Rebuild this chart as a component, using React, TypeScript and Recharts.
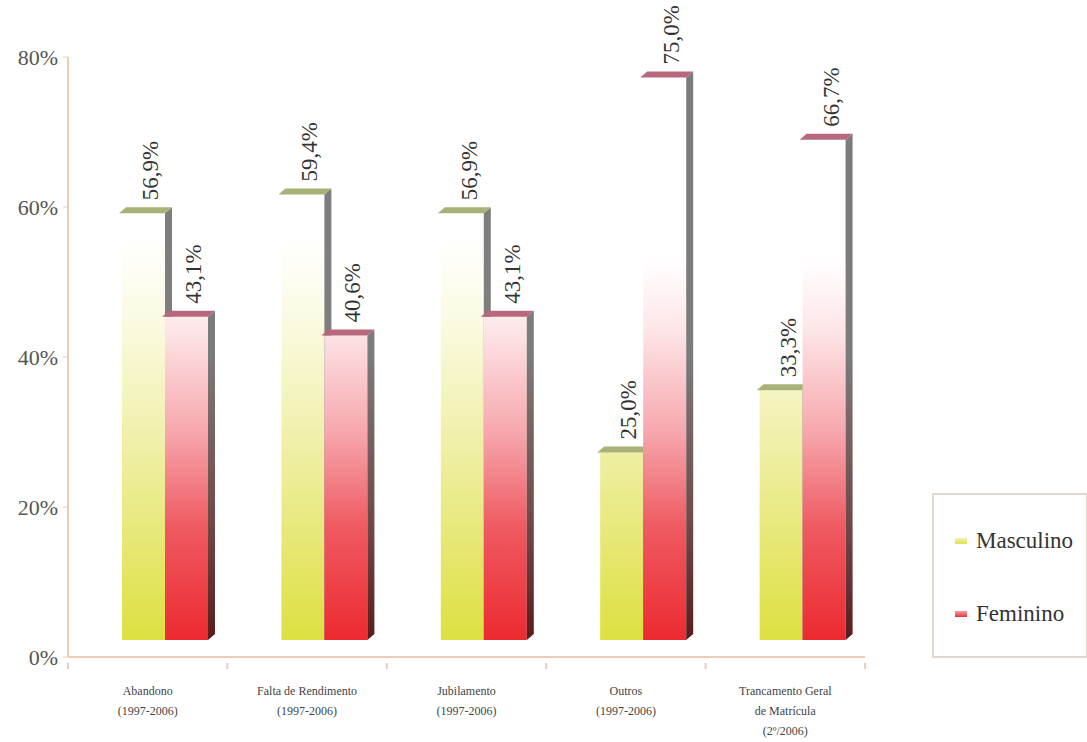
import React from 'react';
import { BarChart, Bar, XAxis, YAxis, Legend, LabelList } from 'recharts';

const categories = [
    'Abandono\n(1997-2006)',
    'Falta de Rendimento\n(1997-2006)',
    'Jubilamento\n(1997-2006)',
    'Outros\n(1997-2006)',
    'Trancamento Geral\nde Matrícula\n(2º/2006)',
];
const masculino = [56.9, 59.4, 56.9, 25.0, 33.3];
const feminino = [43.1, 40.6, 43.1, 75.0, 66.7];
const yTicks = [0, 20, 40, 60, 80];

const data = categories.map((name, i) => ({ name, Masculino: masculino[i], Feminino: feminino[i] }));

const FONT = 'Liberation Serif, DejaVu Serif, serif';
const AXIS = '#e8cdb9';
// 3D look: bars sit on a floor pushed back and up from the axis
const SHIFT = 17;
const DX = 7;
const DY = 6;

const fmt = (v: number) => v.toFixed(1).replace('.', ',') + '%';

const makeShape = (front: string, top: string, side: string) => (props: any) => {
    const { x, y, width, height } = props;
    const fx = x + SHIFT;
    const fy = y - SHIFT;
    const base = fy + height;
    const r = fx + width;
    return (
        <g>
            <rect x={fx} y={fy} width={width} height={height} fill={front} />
            <polygon points={`${r},${fy} ${r + DX},${fy - DY} ${r + DX},${base - DY} ${r},${base}`} fill={side} />
            <polygon points={`${fx - 3},${fy} ${fx + DX - 3},${fy - DY} ${r + DX},${fy - DY} ${r},${fy}`} fill={top} />
        </g>
    );
};

const ValueLabel = (props: any) => {
    const { x, y, width, value } = props;
    const cx = x + width / 2 + SHIFT + 7;
    const cy = y - SHIFT - 13;
    return (
        <text x={cx} y={cy} transform={`rotate(-90 ${cx} ${cy})`} textAnchor="start" dominantBaseline="central"
            style={{ fontFamily: FONT }} fontSize={23} fill="#333">
            {fmt(value)}
        </text>
    );
};

const CategoryTick = (props: any) => {
    const { x, y, payload, index, visibleTicksCount } = props;
    const half = payload.offset || 79.7;
    const lines = String(payload.value).split('\n');
    const axisY = y - 2;
    return (
        <g>
            <line x1={x - half} x2={x - half} y1={axisY} y2={axisY + 6} stroke={AXIS} strokeWidth={2} />
            {index === visibleTicksCount - 1 && (
                <line x1={x + half} x2={x + half} y1={axisY} y2={axisY + 6} stroke={AXIS} strokeWidth={2} />
            )}
            <text x={x} y={axisY + 32} textAnchor="middle" style={{ fontFamily: FONT }} fontSize={12} fill="#444">
                {lines.map((l, i) => (
                    <tspan key={i} x={x} dy={i === 0 ? 0 : 20}>{l}</tspan>
                ))}
            </text>
        </g>
    );
};

const LegendBox = () => (
    <div style={{ width: 156, height: 165, border: '2px solid #e2d8ce', boxSizing: 'border-box', fontFamily: FONT, fontSize: 23, color: '#333' }}>
        <div style={{ display: 'flex', alignItems: 'center', marginTop: 33, marginLeft: 21 }}>
            <span style={{ width: 12, height: 6, background: 'linear-gradient(#f2f2b8, #dfe24a)', marginRight: 9 }} />
            Masculino
        </div>
        <div style={{ display: 'flex', alignItems: 'center', marginTop: 47, marginLeft: 21 }}>
            <span style={{ width: 12, height: 6, background: 'linear-gradient(#f4a0a8, #e8323a)', marginRight: 9 }} />
            Feminino
        </div>
    </div>
);

export default function App() {
    return (
        <div style={{ position: 'absolute', left: 0, top: 0, background: '#fff', fontFamily: FONT }}>
            <BarChart width={1087} height={742} data={data} barSize={43} barGap={0}
                margin={{ top: 57, right: 222, left: 0, bottom: 0 }}>
                <defs>
                    <linearGradient id="gMasc" gradientUnits="userSpaceOnUse" x1="0" y1="640" x2="0" y2="240">
                        <stop offset="0" stopColor="#dde040" />
                        <stop offset="0.45" stopColor="#eeeea0" />
                        <stop offset="0.8" stopColor="#fbfae2" />
                        <stop offset="1" stopColor="#ffffff" />
                    </linearGradient>
                    <linearGradient id="gFem" gradientUnits="userSpaceOnUse" x1="0" y1="640" x2="0" y2="260">
                        <stop offset="0" stopColor="#ec2a30" />
                        <stop offset="0.3" stopColor="#ef5a62" />
                        <stop offset="0.55" stopColor="#f6a8ae" />
                        <stop offset="0.82" stopColor="#fde6e8" />
                        <stop offset="1" stopColor="#ffffff" />
                    </linearGradient>
                    <linearGradient id="gFemSide" gradientUnits="userSpaceOnUse" x1="0" y1="640" x2="0" y2="350">
                        <stop offset="0" stopColor="#5a1c1c" />
                        <stop offset="0.4" stopColor="#704848" />
                        <stop offset="1" stopColor="#7c7c7c" />
                    </linearGradient>
                </defs>
                <XAxis dataKey="name" height={85} axisLine={{ stroke: AXIS, strokeWidth: 2 }} tickLine={false}
                    tick={<CategoryTick />} interval={0} />
                <YAxis domain={[0, 80]} ticks={yTicks} width={68} tickFormatter={(v) => v + '%'}
                    axisLine={{ stroke: AXIS, strokeWidth: 2 }} tickLine={{ stroke: AXIS }} tickSize={5} tickMargin={5}
                    tick={{ style: { fontFamily: FONT }, fontSize: 22, fill: '#555' }} />
                <Legend layout="horizontal" verticalAlign="middle" content={<LegendBox />}
                    wrapperStyle={{ position: 'absolute', left: 932, top: 493, width: 160, height: 167 }} />
                <Bar dataKey="Masculino" isAnimationActive={false} shape={makeShape('url(#gMasc)', '#a9b178', '#7e7e7e')}>
                    <LabelList dataKey="Masculino" content={<ValueLabel />} />
                </Bar>
                <Bar dataKey="Feminino" isAnimationActive={false} shape={makeShape('url(#gFem)', '#b8687c', 'url(#gFemSide)')}>
                    <LabelList dataKey="Feminino" content={<ValueLabel />} />
                </Bar>
            </BarChart>
        </div>
    );
}
